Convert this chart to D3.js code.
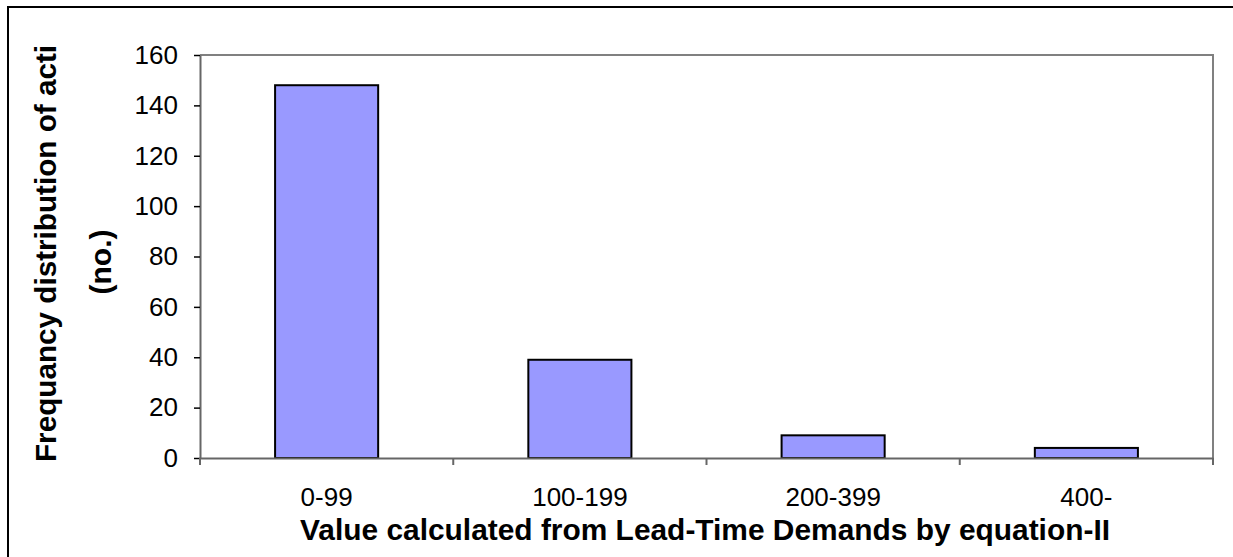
<!DOCTYPE html>
<html><head><meta charset="utf-8">
<script src="https://cdn.jsdelivr.net/npm/d3@7"></script>
<style>body{margin:0;background:#fff}svg{display:block}</style>
</head><body>
<script>
const categories = ["0-99", "100-199", "200-399", "400-"];
const values = [148, 39, 9, 4];
const yTicks = [0, 20, 40, 60, 80, 100, 120, 140, 160];
const xTitle = "Value calculated from Lead-Time Demands by equation-II";
const yTitle1 = "Frequancy distribution of acti";
const yTitle2 = "(no.)";

const W = 1233, H = 557;
const m = {left: 200, top: 55, right: 1213, bottom: 458};
const svg = d3.select("body").append("svg").attr("width", W).attr("height", H);
const font = "'Liberation Sans', Arial, sans-serif";

// outer border
svg.append("rect").attr("x", 8).attr("y", 7).attr("width", W + 10).attr("height", H + 10)
  .attr("fill", "none").attr("stroke", "#000").attr("stroke-width", 2);

const x = d3.scaleBand().domain(categories).range([m.left, m.right]).paddingInner(0.593).paddingOuter(0.2965);
const xb = d3.scaleBand().domain(categories).range([m.left, m.right]);
const y = d3.scaleLinear().domain([0, 160]).range([m.bottom, m.top]);

// plot border (top/right)
svg.append("path").attr("d", `M${m.left},${m.top}H${m.right}V${m.bottom}`)
  .attr("fill", "none").attr("stroke", "#808080").attr("stroke-width", 2);

// bars
svg.selectAll("rect.bar").data(values).enter().append("rect").attr("class", "bar")
  .attr("x", (d, i) => x(categories[i]))
  .attr("width", x.bandwidth())
  .attr("y", d => y(d))
  .attr("height", d => y(0) - y(d))
  .attr("fill", "#9999ff").attr("stroke", "#000").attr("stroke-width", 2);

// y axis
const ya = svg.append("g").attr("transform", `translate(${m.left},0)`)
  .call(d3.axisLeft(y).tickValues(yTicks).tickSize(6).tickPadding(16).tickSizeOuter(0));
ya.select(".domain").attr("stroke", "#666").attr("stroke-width", 2);
ya.selectAll(".tick line").attr("stroke", "#000").attr("stroke-width", 1.5);
ya.selectAll("text").attr("font-family", font).attr("font-size", 26).attr("fill", "#000");

// x axis
const xa = svg.append("g").attr("transform", `translate(0,${m.bottom})`)
  .call(d3.axisBottom(xb).tickSize(0).tickPadding(30).tickSizeOuter(0));
xa.select(".domain").attr("stroke", "#666").attr("stroke-width", 2);
xa.selectAll("text").attr("font-family", font).attr("font-size", 26).attr("fill", "#000");
// category boundary ticks
const bounds = categories.map(c => xb(c)).concat([m.right]);
xa.selectAll("line.bt").data(bounds).enter().append("line").attr("class", "bt")
  .attr("x1", d => d).attr("x2", d => d).attr("y1", 0).attr("y2", 7)
  .attr("stroke", "#666").attr("stroke-width", 2);

// titles
svg.append("text").attr("x", 300).attr("y", 540)
  .attr("text-anchor", "start").attr("font-family", font).attr("font-weight", "bold")
  .attr("font-size", 30).attr("textLength", 810).attr("lengthAdjust", "spacingAndGlyphs").text(xTitle);

svg.append("text").attr("transform", "translate(56,462) rotate(-90)")
  .attr("text-anchor", "start").attr("font-family", font).attr("font-weight", "bold")
  .attr("font-size", 30).attr("textLength", 417).attr("lengthAdjust", "spacingAndGlyphs").text(yTitle1);
svg.append("text").attr("transform", "translate(111,262) rotate(-90)")
  .attr("text-anchor", "middle").attr("font-family", font).attr("font-weight", "bold")
  .attr("font-size", 30).text(yTitle2);
</script>
</body></html>
